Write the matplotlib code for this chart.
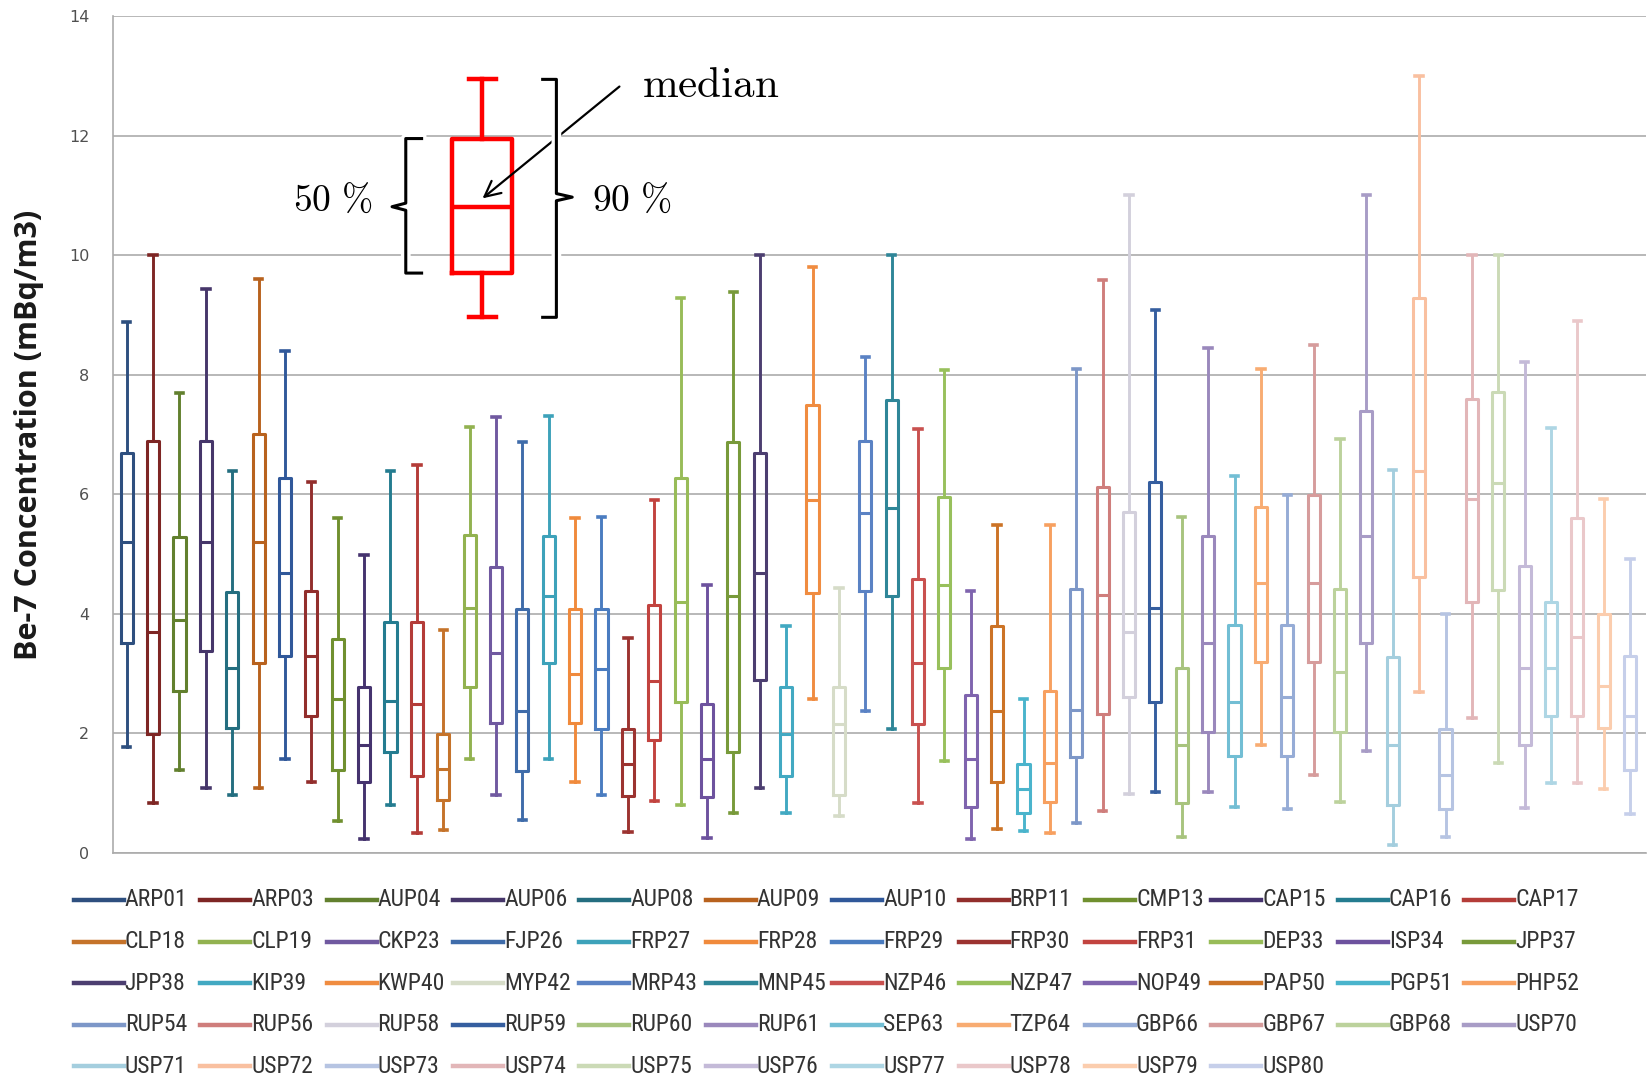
import matplotlib
matplotlib.use("Agg")
import matplotlib.pyplot as plt
from matplotlib.lines import Line2D
import matplotlib.patheffects as pe
from matplotlib import font_manager as fm

# Be-7 surface air concentration per monitoring station (mBq/m3)
stations = ["ARP01", "ARP03", "AUP04", "AUP06", "AUP08", "AUP09", "AUP10", "BRP11", "CMP13", "CAP15", "CAP16", "CAP17",
            "CLP18", "CLP19", "CKP23", "FJP26", "FRP27", "FRP28", "FRP29", "FRP30", "FRP31", "DEP33", "ISP34", "JPP37",
            "JPP38", "KIP39", "KWP40", "MYP42", "MRP43", "MNP45", "NZP46", "NZP47", "NOP49", "PAP50", "PGP51", "PHP52",
            "RUP54", "RUP56", "RUP58", "RUP59", "RUP60", "RUP61", "SEP63", "TZP64", "GBP66", "GBP67", "GBP68", "USP70",
            "USP71", "USP72", "USP73", "USP74", "USP75", "USP76", "USP77", "USP78", "USP79", "USP80"]

p95 = [8.89, 10.0, 7.70, 9.44, 6.39, 9.60, 8.40, 6.20, 5.60, 4.98, 6.39, 6.49,
       3.73, 7.13, 7.29, 6.87, 7.31, 5.60, 5.62, 3.59, 5.90, 9.28, 4.49, 9.39,
       10.0, 3.79, 9.81, 4.44, 8.29, 10.0, 7.09, 8.08, 4.39, 5.49, 2.57, 5.48,
       8.10, 9.58, 11.0, 9.09, 5.62, 8.44, 6.31, 8.10, 5.99, 8.50, 6.92, 11.0,
       6.40, 13.0, 3.99, 10.0, 10.0, 8.21, 7.11, 8.90, 5.92, 4.91]
p75 = [6.69, 6.89, 5.28, 6.89, 4.37, 7.01, 6.28, 4.38, 3.58, 2.78, 3.87, 3.86,
       1.99, 5.32, 4.79, 4.08, 5.30, 4.08, 4.08, 2.08, 4.14, 6.28, 2.50, 6.88,
       6.69, 2.77, 7.49, 2.78, 6.89, 7.58, 4.58, 5.96, 2.64, 3.79, 1.49, 2.71,
       4.41, 6.12, 5.71, 6.20, 3.10, 5.31, 3.82, 5.78, 3.82, 5.99, 4.42, 7.40,
       3.28, 9.28, 2.08, 7.59, 7.71, 4.80, 4.20, 5.60, 3.99, 3.30]
median = [5.20, 3.70, 3.89, 5.20, 3.10, 5.20, 4.68, 3.29, 2.57, 1.80, 2.54, 2.50,
          1.41, 4.10, 3.35, 2.38, 4.30, 2.99, 3.08, 1.49, 2.87, 4.19, 1.58, 4.30,
          4.68, 1.99, 5.90, 2.15, 5.68, 5.77, 3.18, 4.49, 1.58, 2.38, 1.07, 1.51,
          2.40, 4.31, 3.70, 4.10, 1.81, 3.51, 2.52, 4.51, 2.61, 4.51, 3.02, 5.30,
          1.81, 6.39, 1.30, 5.92, 6.19, 3.09, 3.09, 3.61, 2.80, 2.29]
p25 = [3.51, 1.99, 2.71, 3.38, 2.09, 3.17, 3.30, 2.29, 1.39, 1.18, 1.69, 1.29,
       0.88, 2.78, 2.18, 1.37, 3.17, 2.18, 2.08, 0.95, 1.89, 2.52, 0.93, 1.69,
       2.89, 1.29, 4.35, 0.97, 4.38, 4.30, 2.15, 3.10, 0.77, 1.18, 0.67, 0.85,
       1.61, 2.32, 2.61, 2.53, 0.83, 2.03, 1.63, 3.20, 1.63, 3.20, 2.03, 3.51,
       0.81, 4.61, 0.73, 4.19, 4.40, 1.81, 2.29, 2.29, 2.09, 1.39]
p05 = [1.77, 0.83, 1.39, 1.08, 0.97, 1.08, 1.57, 1.18, 0.53, 0.23, 0.80, 0.34,
       0.39, 1.57, 0.97, 0.55, 1.57, 1.18, 0.97, 0.35, 0.87, 0.80, 0.25, 0.67,
       1.08, 0.67, 2.57, 0.62, 2.38, 2.08, 0.83, 1.54, 0.23, 0.40, 0.37, 0.33,
       0.51, 0.70, 0.98, 1.02, 0.26, 1.02, 0.77, 1.81, 0.74, 1.30, 0.85, 1.70,
       0.14, 2.69, 0.26, 2.25, 1.50, 0.76, 1.17, 1.17, 1.07, 0.66]

colors = ["#2E4F7F", "#7E2624", "#62802E", "#46366A", "#246E80", "#B8621E",
          "#30589A", "#922E2C", "#70902F", "#45336E", "#247C90", "#B43C38",
          "#C5732A", "#92B250", "#7059A0", "#3F6CAA", "#3DA2BA", "#F08A3C",
          "#4A7CC0", "#9C3330", "#C2433F", "#98BC58", "#6D529E", "#789A3A",
          "#4C3E70", "#42A9C2", "#F08C40", "#D6DCC8", "#5A82C4", "#2F8698",
          "#C9514F", "#98C05C", "#7F64AE", "#CC7326", "#4AB4CC", "#F7A060",
          "#7D97C8", "#CF7E7C", "#D3D0DC", "#355E9F", "#A8C47E", "#9A88BC",
          "#72BED4", "#F8AC72", "#96ACD6", "#D69C9C", "#BCD29C", "#A89CC6",
          "#A4CEDE", "#F9C0A0", "#B6C4E2", "#E2B6B8", "#CBDAB6", "#C4BAD8",
          "#AED6E4", "#EAC8CA", "#FBCDAE", "#C6CFEA"]

# Key box explaining the markers (percentile values)
key_stats = dict(whislo=8.96, q1=9.70, med=10.81, q3=11.95, whishi=12.94)

W, H = 1652, 1078
names = {f.name for f in fm.fontManager.ttflist}

# narrow face for the legend, if one is installed
legend_font, legend_size = None, 17
for cand in ("Liberation Sans Narrow", "Roboto Condensed", "Open Sans Condensed",
             "Arial Narrow", "Noto Sans Display Condensed"):
    if cand in names:
        legend_font = cand
        break
legend_stretch = "normal"
if legend_font is None:
    condensed = [f.name for f in fm.fontManager.ttflist
                 if str(f.stretch) in ("condensed", "semi-condensed", "extra-condensed")
                 and "Mono" not in f.name and "Serif" not in f.name]
    if condensed:
        legend_font = condensed[0]
        legend_stretch = "condensed"
        legend_size = 15.5
    else:
        legend_font = "Liberation Sans"
        legend_size = 14.5

label_font = "Open Sans" if "Open Sans" in names else "DejaVu Sans"
plt.rcParams["mathtext.fontset"] = "cm"

fig = plt.figure(figsize=(W / 100, H / 100), dpi=100)
fig.patch.set_facecolor("white")
ax = fig.add_axes([113 / W, 1 - 853 / H, (1646 - 113) / W, (853 - 16) / H])

positions = list(range(1, len(stations) + 1))
stats = [dict(whislo=lo, q1=a, med=m, q3=b, whishi=hi, label=s)
         for s, lo, a, m, b, hi in zip(stations, p05, p25, median, p75, p95)]
art = ax.bxp(stats, positions=positions, widths=0.46, capwidths=0.28,
             showfliers=False, manage_ticks=False,
             boxprops=dict(linewidth=2.2), whiskerprops=dict(linewidth=2.1),
             capprops=dict(linewidth=2.6), medianprops=dict(linewidth=2.2))
for i, c in enumerate(colors):
    art["boxes"][i].set_color(c)
    art["medians"][i].set_color(c)
    for k in (2 * i, 2 * i + 1):
        art["whiskers"][k].set_color(c)
        art["caps"][k].set_color(c)

# Key box in red
key_x = 14.48
ax.bxp([key_stats], positions=[key_x], widths=2.27, capwidths=1.04,
       showfliers=False, manage_ticks=False,
       boxprops=dict(linewidth=3.2, color="#FF0000"),
       whiskerprops=dict(linewidth=3.2, color="#FF0000"),
       capprops=dict(linewidth=3.2, color="#FF0000"),
       medianprops=dict(linewidth=3.2, color="#FF0000"))

stroke = [pe.withStroke(linewidth=7, foreground="white")]
# left brace (interquartile range)
lx, lh, lt = 11.58, 12.18, 11.06
ax.plot([lh, lx, lx, lt, lx, lx, lh],
        [key_stats["q3"], key_stats["q3"], key_stats["med"] + 0.06, key_stats["med"],
         key_stats["med"] - 0.06, key_stats["q1"], key_stats["q1"]],
        color="black", lw=2.2, solid_joinstyle="round", path_effects=stroke, zorder=5)
# right brace (5th-95th percentile range)
rx, rh, rt = 17.29, 16.77, 17.89
mid90 = 10.97
ax.plot([rh, rx, rx, rt, rx, rx, rh],
        [key_stats["whishi"], key_stats["whishi"], mid90 + 0.06, mid90,
         mid90 - 0.06, key_stats["whislo"], key_stats["whislo"]],
        color="black", lw=2.2, solid_joinstyle="round", path_effects=stroke, zorder=5)

ax.text(8.82, 10.90, r"$\mathrm{50\ \%}$", fontsize=27, ha="center", va="center", color="black")
ax.text(20.16, 10.90, r"$\mathrm{90\ \%}$", fontsize=27, ha="center", va="center", color="black")
ax.text(23.15, 12.85, r"$\mathrm{median}$", fontsize=31, ha="center", va="center", color="black")
ax.annotate("", xy=(14.49, 10.95), xytext=(19.68, 12.82),
            arrowprops=dict(arrowstyle="->", color="black", lw=1.6, mutation_scale=28,
                            shrinkA=0, shrinkB=0))

ax.set_xlim(0.48, 58.6)
ax.set_ylim(0, 14)
ax.set_yticks(range(0, 15, 2))
ax.set_xticks([])
ax.yaxis.grid(True, color="#ABABAB", linewidth=1.2)
ax.set_axisbelow(True)
for side in ("top", "right"):
    ax.spines[side].set_visible(False)
for side in ("left", "bottom"):
    ax.spines[side].set_color("#ABABAB")
    ax.spines[side].set_linewidth(1.2)
ax.tick_params(axis="y", length=0, pad=17, labelsize=11.5, labelcolor="#505050")
ax.set_ylabel("Be-7 Concentration (mBq/m3)", fontsize=22, fontweight="bold",
              family=label_font, color="#1A1A1A")
ax.yaxis.set_label_coords((44 - 113) / (1646 - 113), 0.5)

# Legend laid out in rows of twelve
for i, (name, c) in enumerate(zip(stations, colors)):
    row, col = divmod(i, 12)
    x0 = 73.8 + col * 126.4
    y0 = 900 + row * 41.6
    fig.add_artist(Line2D([x0 / W, (x0 + 50) / W], [1 - y0 / H, 1 - y0 / H],
                          color=c, lw=3.2, transform=fig.transFigure))
    fig.text((x0 + 51) / W, 1 - y0 / H, name, fontsize=legend_size, family=legend_font,
             fontstretch=legend_stretch, color="#333333", va="center", ha="left")

fig.savefig("out.png", dpi=100)
